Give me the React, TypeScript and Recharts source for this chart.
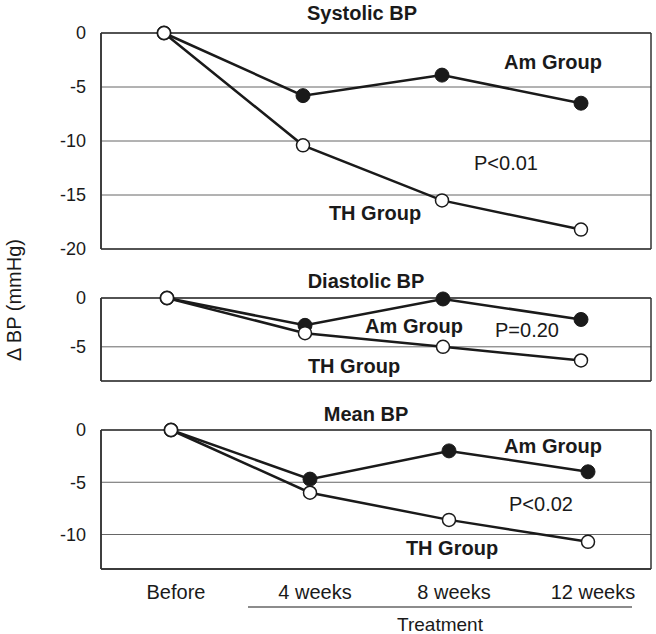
import React from "react";
import { LineChart, Line, XAxis, YAxis, CartesianGrid } from "recharts";

const categories = ["Before", "4 weeks", "8 weeks", "12 weeks"];

// change in BP (mmHg) per group
const systolicAm = [0, -5.8, -3.9, -6.5];
const systolicTh = [0, -10.4, -15.5, -18.2];
const diastolicAm = [0, -2.8, -0.1, -2.2];
const diastolicTh = [0, -3.6, -5.0, -6.4];
const meanAm = [0, -4.7, -2.0, -4.0];
const meanTh = [0, -6.0, -8.6, -10.7];

const systolicTicks = [0, -5, -10, -15, -20];
const diastolicTicks = [0, -5];
const meanTicks = [0, -5, -10];

const FONT = "'Liberation Sans', Arial, Helvetica, sans-serif";
const INK = "#1a1a1a";
const BORDER = { stroke: "#333", strokeWidth: 1.5 };

type PanelProps = {
  top: number;
  height: number;
  margin: { top: number; right: number; bottom: number; left: number };
  am: number[];
  th: number[];
  domain: [number, number];
  ticks: number[];
  padding: { left: number; right: number };
  showX?: boolean;
};

// frame lines at the plot edges
const frameX = ({ offset }: any) => [offset.left, offset.left + offset.width];
const frameY = ({ offset }: any) => [offset.top, offset.top + offset.height];

function Panel({ top, height, margin, am, th, domain, ticks, padding, showX }: PanelProps) {
  const data = categories.map((name, i) => ({ name, am: am[i], th: th[i] }));
  return (
    <div style={{ position: "absolute", left: 0, top }}>
      <LineChart width={656} height={height} data={data} margin={margin}>
        <CartesianGrid vertical={false} stroke="#666" strokeWidth={1} />
        <CartesianGrid
          horizontal={false}
          verticalCoordinatesGenerator={frameX}
          stroke="#333"
          strokeWidth={1.5}
        />
        <CartesianGrid
          vertical={false}
          horizontalCoordinatesGenerator={frameY}
          stroke="#333"
          strokeWidth={1.5}
        />
        <XAxis
          dataKey="name"
          padding={padding}
          interval={0}
          axisLine={BORDER}
          tickLine={false}
          tickSize={6}
          tickMargin={10}
          height={showX ? 65 : 0}
          tick={showX ? { fontSize: 20, fill: INK, dx: 5 } : false}
        />
        <YAxis
          domain={domain}
          ticks={ticks}
          width={101}
          interval={0}
          axisLine={BORDER}
          tickLine={false}
          tickSize={6}
          tickMargin={9}
          tick={{ fontSize: 18, fill: INK }}
        />
        <Line
          dataKey="am"
          stroke={INK}
          strokeWidth={2.5}
          dot={{ r: 7, fill: INK, stroke: INK, strokeWidth: 1 }}
          isAnimationActive={false}
        />
        <Line
          dataKey="th"
          stroke={INK}
          strokeWidth={2.5}
          dot={{ r: 6.5, fill: "#fff", stroke: INK, strokeWidth: 1.5 }}
          isAnimationActive={false}
        />
      </LineChart>
    </div>
  );
}

const bold = { fontSize: 20, fontWeight: 700, fill: INK, textAnchor: "middle" as const };
const plain = { fontSize: 20, fill: INK, textAnchor: "middle" as const };

export default function App() {
  return (
    <div
      style={{
        position: "absolute",
        left: 0,
        top: 0,
        width: 656,
        height: 634,
        background: "#fff",
        fontFamily: FONT,
      }}
    >
      <Panel
        top={0}
        height={260}
        margin={{ top: 33, right: 5, bottom: 11, left: 0 }}
        am={systolicAm}
        th={systolicTh}
        domain={[-20, 0]}
        ticks={systolicTicks}
        padding={{ left: 63, right: 70 }}
      />
      <Panel
        top={260}
        height={130}
        margin={{ top: 38, right: 5, bottom: 9, left: 0 }}
        am={diastolicAm}
        th={diastolicTh}
        domain={[-8.5, 0]}
        ticks={diastolicTicks}
        padding={{ left: 66, right: 70 }}
      />
      <Panel
        top={390}
        height={244}
        margin={{ top: 40, right: 5, bottom: 0, left: 0 }}
        am={meanAm}
        th={meanTh}
        domain={[-13.3, 0]}
        ticks={meanTicks}
        padding={{ left: 70, right: 63 }}
        showX
      />
      <svg
        width={656}
        height={634}
        style={{ position: "absolute", left: 0, top: 0, pointerEvents: "none" }}
      >
        <text x={362} y={20} {...bold}>Systolic BP</text>
        <text x={553} y={69} {...bold}>Am Group</text>
        <text x={506} y={170} {...plain}>P&lt;0.01</text>
        <text x={375} y={220} {...bold}>TH Group</text>

        <text x={366} y={288} {...bold}>Diastolic BP</text>
        <text x={414} y={333} {...bold}>Am Group</text>
        <text x={527} y={337} {...plain}>P=0.20</text>
        <text x={354} y={373} {...bold}>TH Group</text>

        <text x={366} y={421} {...bold}>Mean BP</text>
        <text x={553} y={453} {...bold}>Am Group</text>
        <text x={541} y={511} {...plain}>P&lt;0.02</text>
        <text x={452} y={555} {...bold}>TH Group</text>

        <line x1={248} x2={632} y1={607} y2={607} stroke={INK} strokeWidth={1.2} />
        <text x={440} y={631} fontSize={19} fill={INK} textAnchor="middle">Treatment</text>

        <text
          x={0}
          y={0}
          fontSize={20}
          fill={INK}
          textAnchor="middle"
          transform="translate(21,300) rotate(-90)"
        >
          Δ BP (mmHg)
        </text>
      </svg>
    </div>
  );
}
